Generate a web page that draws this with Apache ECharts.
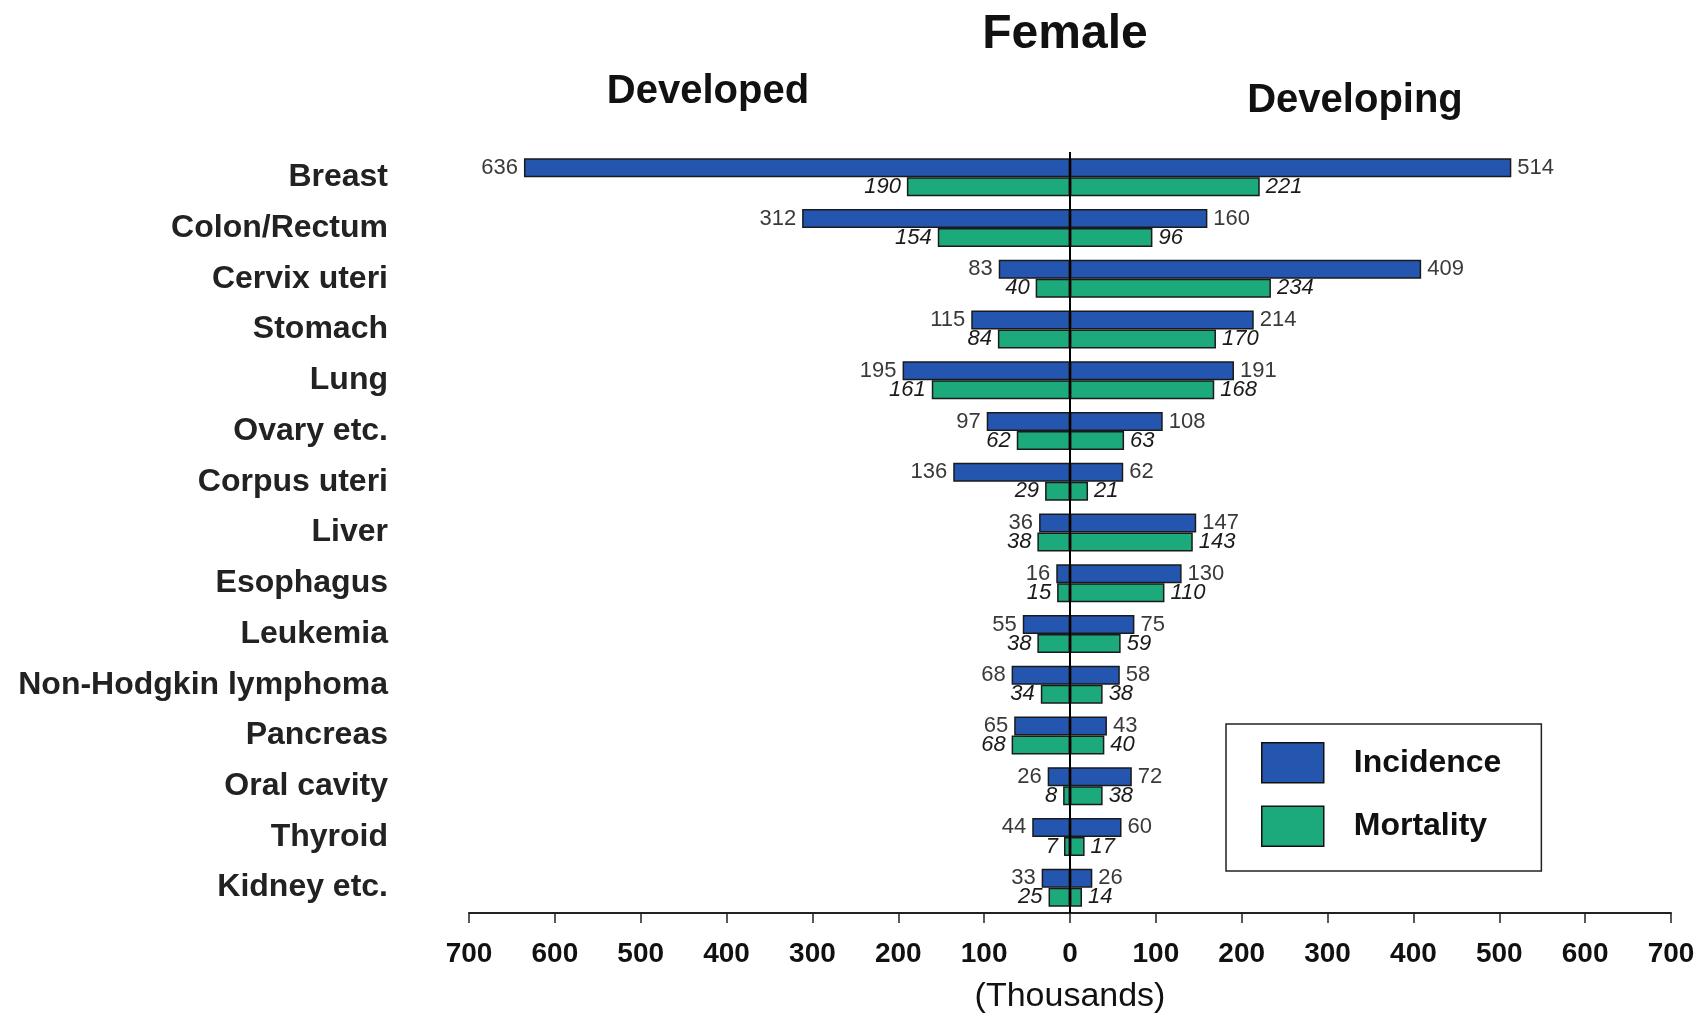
<!DOCTYPE html>
<html>
<head>
<meta charset="utf-8">
<script src="https://cdn.jsdelivr.net/npm/echarts@6/dist/echarts.min.js"></script>
<style>
html,body{margin:0;padding:0;background:#fff;}
#chart{width:1701px;height:1014px;}
</style>
</head>
<body>
<div id="chart"></div>
<script>
const categories = ['Breast','Colon/Rectum','Cervix uteri','Stomach','Lung','Ovary etc.','Corpus uteri','Liver','Esophagus','Leukemia','Non-Hodgkin lymphoma','Pancreas','Oral cavity','Thyroid','Kidney etc.'];
const developedIncidence = [636,312,83,115,195,97,136,36,16,55,68,65,26,44,33];
const developedMortality = [190,154,40,84,161,62,29,38,15,38,34,68,8,7,25];
const developingIncidence = [514,160,409,214,191,108,62,147,130,75,58,43,72,60,26];
const developingMortality = [221,96,234,170,168,63,21,143,110,59,38,40,38,17,14];
const xTicks = [-700,700,100];

const BLUE = '#2456B0';
const GREEN = '#1CA97C';
const FONT = '"Liberation Sans", Arial, Helvetica, sans-serif';
const NARROW = '"Liberation Sans Narrow", "Liberation Sans", Arial, sans-serif';

const neg = a => a.map(v => -v);
const absFmt = p => Math.abs(p.value);

function barSeries(name, data, stack, color, side, italic) {
  return {
    name: name,
    type: 'bar',
    stack: stack,
    data: data,
    barWidth: 19,
    barGap: '0%',
    itemStyle: { color: color, borderColor: '#1a1a1a', borderWidth: 1.5 },
    label: {
      show: true,
      position: side,
      distance: 6,
      formatter: absFmt,
      fontFamily: FONT,
      fontSize: 22,
      fontStyle: italic ? 'italic' : 'normal',
      color: italic ? '#1a1a1a' : '#3a3a3a'
    },
    emphasis: { disabled: true }
  };
}

const chart = echarts.init(document.getElementById('chart'), null, { renderer: 'canvas' });
const series = [
  barSeries('Incidence', neg(developedIncidence), 'inc', BLUE, 'left', false),
  barSeries('Mortality', neg(developedMortality), 'mort', GREEN, 'left', true),
  barSeries('Incidence', developingIncidence, 'inc', BLUE, 'right', false),
  barSeries('Mortality', developingMortality, 'mort', GREEN, 'right', true)
];
series[0].markLine = {
  silent: true,
  symbol: ['none', 'none'],
  label: { show: false },
  lineStyle: { color: '#000', width: 2, type: 'solid' },
  data: [{ xAxis: 0 }],
  z: 10
};

chart.setOption({
  backgroundColor: '#fff',
  animation: false,
  grid: { left: 469, right: 30, top: 152, bottom: 101, outerBoundsMode: 'none', containLabel: false },
  xAxis: {
    type: 'value',
    min: xTicks[0], max: xTicks[1], interval: xTicks[2],
    axisLine: { show: true, lineStyle: { color: '#222', width: 2 } },
    axisTick: { show: true, length: 10, lineStyle: { color: '#222', width: 1.5 } },
    splitLine: { show: false },
    axisLabel: {
      formatter: v => Math.abs(v),
      fontFamily: NARROW, fontWeight: 'bold', fontSize: 28, color: '#111', margin: 27
    },
    name: '(Thousands)',
    nameLocation: 'middle',
    nameGap: 67,
    nameTextStyle: { fontFamily: NARROW, fontSize: 34, color: '#111' }
  },
  yAxis: {
    type: 'category',
    data: categories,
    inverse: true,
    axisLine: { show: false },
    axisTick: { show: false },
    axisLabel: {
      fontFamily: FONT, fontWeight: 'bold', fontSize: 32, color: '#222', margin: 81
    }
  },
  legend: {
    data: ['Incidence', 'Mortality'],
    orient: 'vertical',
    left: 1226, top: 724,
    padding: [18, 40, 24, 35],
    itemWidth: 62, itemHeight: 40, itemGap: 22,
    borderColor: '#222', borderWidth: 1.5,
    icon: 'rect',
    itemStyle: { borderColor: '#111', borderWidth: 1.5 },
    textStyle: { fontFamily: FONT, fontWeight: 'bold', fontSize: 32, color: '#111', padding: [0, 0, 0, 25] },
    selectedMode: false
  },
  graphic: [
    { type: 'text', x: 1065, y: 35, style: { text: 'Female', fontFamily: FONT, fontWeight: 'bold', fontSize: 48, fill: '#111', textAlign: 'center', textVerticalAlign: 'middle' } },
    { type: 'text', x: 708, y: 92, style: { text: 'Developed', fontFamily: FONT, fontWeight: 'bold', fontSize: 40, fill: '#111', textAlign: 'center', textVerticalAlign: 'middle' } },
    { type: 'text', x: 1355, y: 101, style: { text: 'Developing', fontFamily: FONT, fontWeight: 'bold', fontSize: 40, fill: '#111', textAlign: 'center', textVerticalAlign: 'middle' } }
  ],
  series: series
});
</script>
</body>
</html>
